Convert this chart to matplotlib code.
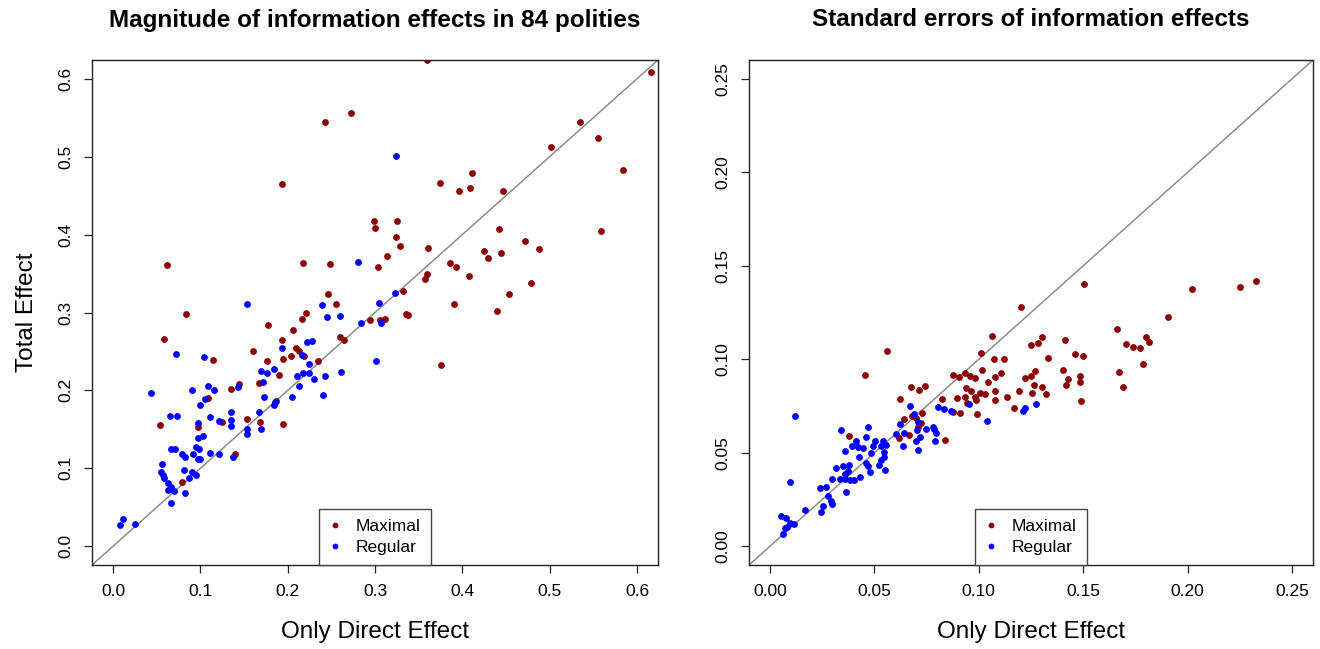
import matplotlib
matplotlib.use("Agg")
import matplotlib.pyplot as plt

plt.rcParams['font.family'] = ['Liberation Sans', 'DejaVu Sans']

# left panel: magnitude of effects (only direct, total)
mag_max_x = [0.273, 0.243, 0.194, 0.299, 0.300, 0.062, 0.218, 0.248, 0.304, 0.246,
             0.255, 0.084, 0.221, 0.360, 0.616, 0.535, 0.555, 0.502, 0.584, 0.411,
             0.374, 0.396, 0.409, 0.447, 0.325, 0.442, 0.559, 0.324, 0.329, 0.361,
             0.472, 0.488, 0.425, 0.429, 0.444, 0.314, 0.386, 0.393, 0.360, 0.357,
             0.408, 0.479, 0.453, 0.332, 0.390, 0.440, 0.335, 0.338, 0.294, 0.306,
             0.311, 0.376, 0.216, 0.177, 0.059, 0.206, 0.193, 0.260, 0.265, 0.210,
             0.213, 0.160, 0.204, 0.219, 0.114, 0.176, 0.195, 0.235, 0.190, 0.167,
             0.144, 0.135, 0.109, 0.187, 0.154, 0.125, 0.168, 0.195, 0.054, 0.097,
             0.140, 0.079]
mag_max_y = [0.556, 0.544, 0.465, 0.418, 0.409, 0.361, 0.363, 0.362, 0.358, 0.324,
             0.311, 0.298, 0.300, 0.624, 0.609, 0.544, 0.524, 0.512, 0.483, 0.479,
             0.466, 0.456, 0.460, 0.456, 0.418, 0.407, 0.405, 0.397, 0.385, 0.383,
             0.392, 0.381, 0.379, 0.370, 0.376, 0.373, 0.364, 0.358, 0.350, 0.343,
             0.347, 0.338, 0.324, 0.327, 0.311, 0.302, 0.298, 0.297, 0.291, 0.290,
             0.292, 0.233, 0.292, 0.284, 0.266, 0.277, 0.265, 0.268, 0.265, 0.254,
             0.251, 0.250, 0.244, 0.244, 0.239, 0.238, 0.240, 0.238, 0.220, 0.209,
             0.208, 0.202, 0.190, 0.187, 0.163, 0.159, 0.159, 0.157, 0.156, 0.153,
             0.118, 0.082]
mag_reg_x = [0.281, 0.153, 0.239, 0.305, 0.324, 0.323, 0.307, 0.301, 0.245, 0.260,
             0.284, 0.228, 0.222, 0.194, 0.072, 0.216, 0.104, 0.225, 0.184, 0.170,
             0.176, 0.218, 0.225, 0.211, 0.243, 0.261, 0.230, 0.172, 0.213, 0.143,
             0.109, 0.116, 0.090, 0.044, 0.205, 0.173, 0.240, 0.105, 0.185, 0.100,
             0.184, 0.167, 0.135, 0.065, 0.073, 0.111, 0.121, 0.135, 0.135, 0.097,
             0.153, 0.153, 0.169, 0.103, 0.097, 0.067, 0.071, 0.095, 0.098, 0.111,
             0.121, 0.137, 0.079, 0.082, 0.092, 0.097, 0.100, 0.056, 0.055, 0.057,
             0.059, 0.081, 0.091, 0.095, 0.087, 0.063, 0.066, 0.063, 0.070, 0.083,
             0.066, 0.011, 0.008, 0.025]
mag_reg_y = [0.365, 0.311, 0.310, 0.312, 0.501, 0.325, 0.286, 0.238, 0.294, 0.296,
             0.286, 0.263, 0.262, 0.254, 0.247, 0.246, 0.243, 0.234, 0.227, 0.225,
             0.223, 0.223, 0.222, 0.218, 0.219, 0.224, 0.215, 0.211, 0.206, 0.205,
             0.206, 0.201, 0.200, 0.197, 0.191, 0.192, 0.194, 0.189, 0.185, 0.181,
             0.181, 0.172, 0.172, 0.167, 0.167, 0.166, 0.161, 0.162, 0.155, 0.158,
             0.150, 0.144, 0.150, 0.142, 0.139, 0.125, 0.125, 0.127, 0.125, 0.120,
             0.118, 0.115, 0.118, 0.115, 0.118, 0.112, 0.112, 0.105, 0.095, 0.091,
             0.088, 0.098, 0.095, 0.092, 0.088, 0.081, 0.076, 0.072, 0.071, 0.068,
             0.055, 0.035, 0.027, 0.029]

# right panel: standard errors
se_max_x = [0.1204, 0.1062, 0.0563, 0.1012, 0.1075, 0.1121, 0.1304, 0.1283, 0.1248, 0.1412,
            0.1331, 0.0457, 0.0875, 0.0904, 0.0932, 0.0960, 0.0982, 0.1014, 0.1104, 0.1076,
            0.1046, 0.1267, 0.1251, 0.1220, 0.1401, 0.1425, 0.1417, 0.1486, 0.1484, 0.1488,
            0.0675, 0.0744, 0.0715, 0.0939, 0.0964, 0.1076, 0.1192, 0.1265, 0.1304, 0.1254,
            0.1321, 0.1004, 0.1032, 0.0625, 0.0822, 0.0894, 0.0932, 0.0982, 0.0987, 0.1078,
            0.1136, 0.0942, 0.1169, 0.0875, 0.0910, 0.0990, 0.0642, 0.0678, 0.0699, 0.0728,
            0.0723, 0.0710, 0.0664, 0.0616, 0.0836, 0.0381, 0.1503, 0.2022, 0.2249, 0.2329,
            0.1906, 0.1664, 0.1703, 0.1736, 0.1771, 0.1801, 0.1814, 0.1459, 0.1500, 0.1787,
            0.1670, 0.1691]
se_max_y = [0.1277, 0.1124, 0.1042, 0.1035, 0.1004, 0.1003, 0.1118, 0.1088, 0.1077, 0.1102,
            0.1008, 0.0917, 0.0917, 0.0905, 0.0928, 0.0908, 0.0899, 0.0942, 0.0924, 0.0906,
            0.0881, 0.0937, 0.0910, 0.0899, 0.0940, 0.0894, 0.0862, 0.0912, 0.0876, 0.0775,
            0.0853, 0.0858, 0.0833, 0.0844, 0.0830, 0.0832, 0.0832, 0.0862, 0.0853, 0.0817,
            0.0812, 0.0817, 0.0816, 0.0785, 0.0785, 0.0792, 0.0796, 0.0796, 0.0784, 0.0780,
            0.0796, 0.0768, 0.0739, 0.0717, 0.0714, 0.0709, 0.0682, 0.0696, 0.0687, 0.0712,
            0.0659, 0.0636, 0.0593, 0.0581, 0.0570, 0.0588, 0.1405, 0.1375, 0.1384, 0.1421,
            0.1227, 0.1163, 0.1083, 0.1068, 0.1061, 0.1118, 0.1091, 0.1027, 0.1019, 0.0972,
            0.0931, 0.0851]
se_reg_x = [0.0673, 0.0803, 0.0833, 0.0867, 0.0955, 0.1038, 0.1220, 0.1214, 0.1275, 0.0122,
            0.0098, 0.0341, 0.0472, 0.0461, 0.0414, 0.0395, 0.0424, 0.0446, 0.0361, 0.0504,
            0.0541, 0.0496, 0.0534, 0.0558, 0.0485, 0.0547, 0.0427, 0.0547, 0.0531, 0.0523,
            0.0552, 0.0462, 0.0472, 0.0480, 0.0349, 0.0379, 0.0373, 0.0318, 0.0361, 0.0337,
            0.0360, 0.0385, 0.0405, 0.0432, 0.0299, 0.0363, 0.0238, 0.0267, 0.0280, 0.0293,
            0.0296, 0.0166, 0.0256, 0.0243, 0.0053, 0.0077, 0.0095, 0.0115, 0.0083, 0.0072,
            0.0064, 0.0691, 0.0710, 0.0702, 0.0625, 0.0745, 0.0779, 0.0788, 0.0795, 0.0644,
            0.0605, 0.0721, 0.0699, 0.0792, 0.0637, 0.0707]
se_reg_y = [0.0748, 0.0744, 0.0732, 0.0723, 0.0759, 0.0668, 0.0739, 0.0723, 0.0762, 0.0696,
            0.0345, 0.0621, 0.0636, 0.0584, 0.0563, 0.0534, 0.0531, 0.0527, 0.0507, 0.0561,
            0.0565, 0.0534, 0.0536, 0.0540, 0.0499, 0.0504, 0.0479, 0.0477, 0.0459, 0.0436,
            0.0410, 0.0443, 0.0427, 0.0397, 0.0431, 0.0434, 0.0404, 0.0418, 0.0388, 0.0358,
            0.0358, 0.0354, 0.0356, 0.0370, 0.0360, 0.0292, 0.0311, 0.0317, 0.0267, 0.0242,
            0.0226, 0.0196, 0.0214, 0.0183, 0.0160, 0.0153, 0.0124, 0.0119, 0.0101, 0.0096,
            0.0066, 0.0707, 0.0666, 0.0620, 0.0655, 0.0625, 0.0639, 0.0625, 0.0607, 0.0605,
            0.0602, 0.0584, 0.0563, 0.0565, 0.0536, 0.0513]

mag_ticks = [0.0, 0.1, 0.2, 0.3, 0.4, 0.5, 0.6]
mag_labels = ["0.0", "0.1", "0.2", "0.3", "0.4", "0.5", "0.6"]
se_ticks = [0.0, 0.05, 0.10, 0.15, 0.20, 0.25]
se_labels = ["0.00", "0.05", "0.10", "0.15", "0.20", "0.25"]

MAXIMAL = "#8b0000"
REGULAR = "#0000ff"
W, H = 1320, 649


def draw_panel(ax, max_x, max_y, reg_x, reg_y, hi, ticks, labels, title):
    pad = hi * 0.04
    lim = (-pad, hi + pad)
    ax.set_xlim(lim)
    ax.set_ylim(lim)
    ax.plot(lim, lim, color="#8c8c8c", lw=1.1, zorder=1)
    ax.plot(max_x, max_y, "o", color=MAXIMAL, ms=4.9, mew=0, label="Maximal", zorder=2)
    ax.plot(reg_x, reg_y, "o", color=REGULAR, ms=4.9, mew=0, label="Regular", zorder=3)
    ax.set_xticks(ticks)
    ax.set_xticklabels(labels)
    ax.set_yticks(ticks)
    ax.set_yticklabels(labels, rotation=90, va="center")
    ax.tick_params(length=5.5, width=0.9, labelsize=12.5, pad=8, color="#222222")
    for s in ax.spines.values():
        s.set_color("#222222")
        s.set_linewidth(1.0)
    ax.text(0.5, 1 + 40 / 505, title, transform=ax.transAxes, ha="center", va="center",
            fontsize=17.5, fontweight="bold")
    ax.text(0.5, -67 / 505, "Only Direct Effect", transform=ax.transAxes,
            ha="center", va="center", fontsize=17.5)
    leg = ax.legend(loc="lower center", borderaxespad=0, fancybox=False, framealpha=1,
                    edgecolor="#444444", fontsize=12.5, handlelength=0.6, handletextpad=0.9,
                    borderpad=0.6, labelspacing=0.3, markerscale=0.85)
    leg.get_frame().set_linewidth(1.0)


fig = plt.figure(figsize=(W / 100, H / 100), dpi=100)
ax1 = fig.add_axes([92 / W, 84 / H, 566 / W, 505 / H])
ax2 = fig.add_axes([749 / W, 84 / H, 564 / W, 505 / H])

draw_panel(ax1, mag_max_x, mag_max_y, mag_reg_x, mag_reg_y, 0.6, mag_ticks, mag_labels,
           "Magnitude of information effects in 84 polities")
draw_panel(ax2, se_max_x, se_max_y, se_reg_x, se_reg_y, 0.25, se_ticks, se_labels,
           "Standard errors of information effects")
ax1.text(-65 / 566, 0.5, "Total Effect", transform=ax1.transAxes, rotation=90,
         ha="center", va="center", fontsize=17.5)

fig.savefig("out.png", dpi=100)
